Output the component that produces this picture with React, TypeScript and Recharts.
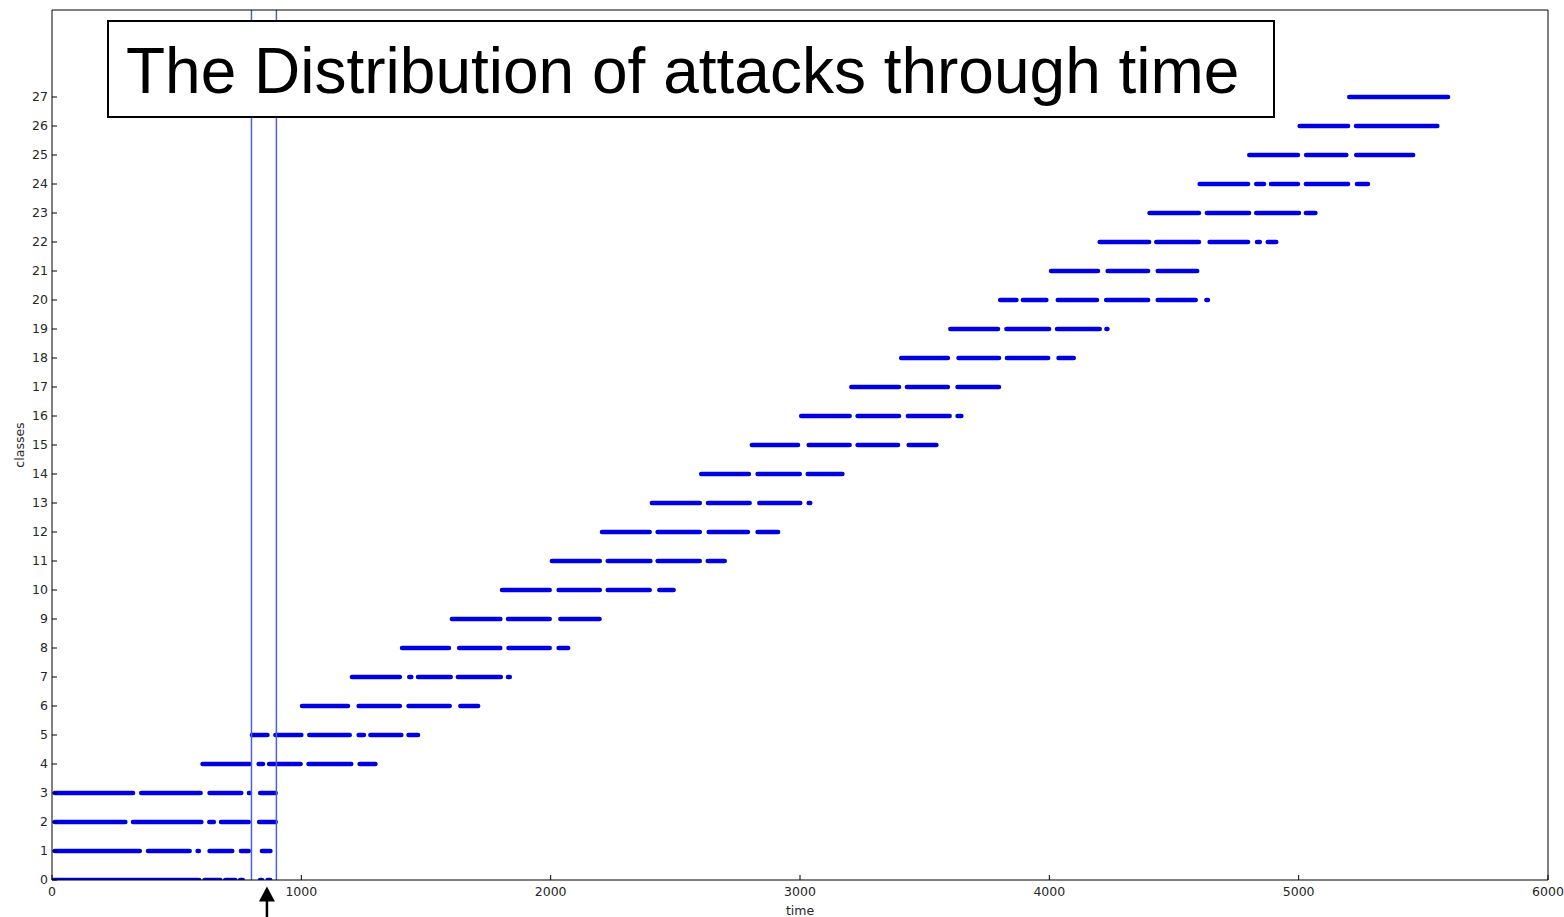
import { ComposedChart, Line, XAxis, YAxis, ReferenceLine, Label } from 'recharts'

const timeTicks = [0, 1000, 2000, 3000, 4000, 5000, 6000]
const classTicks = [0, 1, 2, 3, 4, 5, 6, 7, 8, 9, 10, 11, 12, 13, 14, 15, 16, 17, 18, 19, 20, 21, 22, 23, 24, 25, 26, 27]

// window of interest and the time it points at
const windowBounds = [800, 900]
const markedTime = 862

// [first, last] time of every run of attacks, one row per class
const runsByClass: [number, number][][] = [
  [[8, 590], [612, 675], [695, 735], [755, 765], [835, 842], [865, 875]],
  [[11, 352], [385, 552], [584, 589], [632, 723], [758, 789], [842, 876]],
  [[11, 294], [325, 599], [631, 649], [678, 789], [831, 897]],
  [[11, 325], [358, 596], [632, 759], [790, 794], [835, 897]],
  [[604, 793], [829, 846], [871, 997], [1029, 1200], [1234, 1297]],
  [[802, 864], [896, 1000], [1032, 1194], [1230, 1251], [1277, 1401], [1430, 1468]],
  [[1003, 1187], [1230, 1395], [1430, 1595], [1638, 1709]],
  [[1203, 1395], [1433, 1441], [1468, 1599], [1628, 1800], [1829, 1836]],
  [[1404, 1592], [1633, 1798], [1831, 1996], [2032, 2070]],
  [[1604, 1798], [1829, 1996], [2039, 2196]],
  [[1805, 1996], [2032, 2197], [2229, 2397], [2436, 2493]],
  [[2005, 2197], [2229, 2400], [2429, 2598], [2630, 2698]],
  [[2206, 2397], [2429, 2598], [2634, 2791], [2830, 2912]],
  [[2406, 2598], [2631, 2798], [2837, 3001], [3035, 3041]],
  [[2604, 2795], [2830, 2999], [3031, 3170]],
  [[2807, 2992], [3035, 3199], [3231, 3393], [3436, 3547]],
  [[3005, 3199], [3231, 3397], [3433, 3600], [3632, 3647]],
  [[3206, 3397], [3429, 3593], [3632, 3798]],
  [[3406, 3593], [3636, 3798], [3830, 3995], [4037, 4098]],
  [[3603, 3794], [3828, 3999], [4031, 4202], [4229, 4233]],
  [[3803, 3868], [3894, 3988], [4034, 4191], [4228, 4396], [4435, 4587], [4630, 4636]],
  [[4007, 4195], [4234, 4396], [4435, 4593]],
  [[4202, 4400], [4429, 4600], [4643, 4797], [4833, 4844], [4876, 4910]],
  [[4402, 4600], [4632, 4801], [4830, 5001], [5029, 5067]],
  [[4603, 4797], [4830, 4861], [4889, 4997], [5029, 5198], [5234, 5278]],
  [[4802, 4997], [5030, 5191], [5231, 5459]],
  [[5004, 5198], [5230, 5556]],
  [[5203, 5599]],
]

const FONT = 'DejaVu Sans, sans-serif'
const DOT_BLUE = '#0000e0'

// each run becomes a pair of points followed by a gap
const toSeries = (runs: [number, number][], cls: number) =>
  runs.flatMap(([start, end]) => [
    { t: start, c: cls },
    { t: end, c: cls },
    { t: end, c: null },
  ])

const tickStyle = { fill: '#262626', fontSize: 12.5, fontFamily: FONT }

const Arrow = (props: any) => {
  const { x1, y1, y2 } = props
  const tip = Math.min(y1, y2)
  const tail = Math.max(y1, y2)
  return (
    <g>
      <line x1={x1} y1={tip + 12} x2={x1} y2={tail} stroke="#000" strokeWidth={2.5} />
      <polygon points={`${x1},${tip} ${x1 - 8},${tip + 15} ${x1 + 8},${tip + 15}`} fill="#000" />
    </g>
  )
}

export default function App() {
  return (
    <div style={{ position: 'absolute', left: 0, top: 0, width: 1564, height: 917, background: '#fff' }}>
      <ComposedChart width={1564} height={917} margin={{ top: 0, right: 0, bottom: 0, left: 0 }}>
        <XAxis
          dataKey="t"
          type="number"
          domain={[0, 6000]}
          ticks={timeTicks}
          interval={0}
          allowDataOverflow
          height={37}
          tickSize={-5}
          tickMargin={12}
          stroke="#000"
          tick={tickStyle}
        >
          <Label
            content={(p: any) => (
              <text x={p.viewBox.x + p.viewBox.width / 2} y={915} textAnchor="middle" fontSize={12.5} fontFamily={FONT} fill="#262626">
                time
              </text>
            )}
          />
        </XAxis>
        <XAxis
          xAxisId="top"
          orientation="top"
          type="number"
          domain={[0, 6000]}
          ticks={timeTicks}
          interval={0}
          height={10}
          tickSize={-5}
          stroke="#000"
          tick={() => <g />}
        />
        <YAxis
          type="number"
          domain={[0, 30]}
          ticks={classTicks}
          interval={0}
          allowDataOverflow
          width={52}
          tickSize={-5}
          tickMargin={9}
          stroke="#000"
          tick={tickStyle}
        >
          <Label
            content={(p: any) => {
              const cy = p.viewBox.y + p.viewBox.height / 2
              return (
                <text x={24} y={cy} transform={`rotate(-90 24 ${cy})`} textAnchor="middle" fontSize={12.5} fontFamily={FONT} fill="#262626">
                  classes
                </text>
              )
            }}
          />
        </YAxis>
        <YAxis
          yAxisId="right"
          orientation="right"
          type="number"
          domain={[0, 30]}
          ticks={classTicks}
          interval={0}
          width={16}
          tickSize={-5}
          stroke="#000"
          tick={() => <g />}
        />

        {runsByClass.map((runs, cls) => (
          <Line
            key={cls}
            data={toSeries(runs, cls)}
            dataKey="c"
            stroke={DOT_BLUE}
            strokeWidth={4.6}
            strokeLinecap="round"
            dot={false}
            activeDot={false}
            connectNulls={false}
            isAnimationActive={false}
          />
        ))}

        {windowBounds.map((x) => (
          <ReferenceLine key={x} x={x} stroke="#4c5fdc" strokeWidth={1.5} />
        ))}
        <ReferenceLine
          segment={[{ x: markedTime, y: -0.22 }, { x: markedTime, y: -1.3 }]}
          ifOverflow="visible"
          shape={Arrow}
        />
      </ComposedChart>

      <svg width={1564} height={917} style={{ position: 'absolute', left: 0, top: 0, pointerEvents: 'none' }}>
        <rect x={108} y={21} width={1166} height={96} fill="#fff" stroke="#000" strokeWidth={2} />
        <text x={126} y={93} fontSize={64} fontFamily="Liberation Sans, Arial, sans-serif" fill="#000">
          The Distribution of attacks through time
        </text>
      </svg>
    </div>
  )
}
